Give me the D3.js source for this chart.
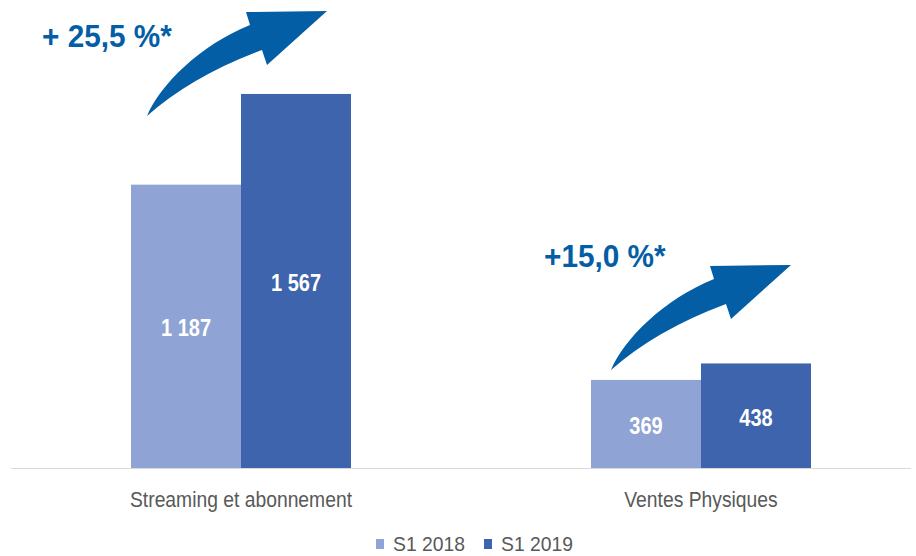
<!DOCTYPE html>
<html>
<head>
<meta charset="utf-8">
<script src="https://cdnjs.cloudflare.com/ajax/libs/d3/7.8.5/d3.min.js"></script>
<style>
  body { margin: 0; background: #fff; }
  svg { display: block; }
</style>
</head>
<body>
<div id="chart"></div>
<script>
// Data
const categories = ["Streaming et abonnement", "Ventes Physiques"];
const series = ["S1 2018", "S1 2019"];
const values2018 = [1187, 369];
const values2019 = [1567, 438];
const growthLabels = ["+ 25,5 %*", "+15,0 %*"];

const colors = { "S1 2018": "#8FA3D4", "S1 2019": "#3D64AD" };
const accent = "#045EA5";
const font = "'Liberation Sans', Arial, sans-serif";

const viewW = 916, viewH = 556;
const baseY = 468;

const svg = d3.select("#chart")
  .append("svg")
  .attr("width", viewW)
  .attr("height", viewH);

// condensed look (no narrow font installed)
const condense = (sel, f) => sel.each(function () {
  const w = this.getComputedTextLength();
  d3.select(this).attr("textLength", w * f).attr("lengthAdjust", "spacingAndGlyphs");
});

// Scales
const x0 = d3.scaleBand()
  .domain(categories)
  .range([11, 931]);

const x1 = d3.scaleBand()
  .domain(series)
  .range([120, 340]);

const y = d3.scaleLinear()
  .domain([0, 1800])
  .range([baseY, baseY - 1800 * 0.2387]);

const rows = categories.map((c, i) => ({
  cat: c,
  vals: [
    { s: series[0], v: values2018[i] },
    { s: series[1], v: values2019[i] }
  ]
}));

// Bars
const groups = svg.selectAll("g.grp")
  .data(rows)
  .join("g")
  .attr("class", "grp")
  .attr("transform", d => `translate(${x0(d.cat)},0)`);

groups.selectAll("rect")
  .data(d => d.vals)
  .join("rect")
  .attr("x", d => x1(d.s))
  .attr("y", d => y(d.v))
  .attr("width", x1.bandwidth())
  .attr("height", d => y(0) - y(d.v))
  .attr("fill", d => colors[d.s]);

// Value labels
groups.selectAll("text.val")
  .data(d => d.vals)
  .join("text")
  .attr("class", "val")
  .attr("x", d => x1(d.s) + x1.bandwidth() / 2)
  .attr("y", d => (y(d.v) + y(0)) / 2 + 10)
  .attr("text-anchor", "middle")
  .attr("fill", "#fff")
  .style("font-family", font)
  .style("font-weight", "bold")
  .style("font-size", "23px")
  .text(d => d3.format(",")(d.v).replace(",", " "))
  .call(condense, 0.87);

// X Axis line
svg.append("line")
  .attr("x1", 11).attr("x2", 911)
  .attr("y1", baseY + 0.5).attr("y2", baseY + 0.5)
  .attr("stroke", "#d9d9d9")
  .attr("stroke-width", 1);

// Category labels
svg.selectAll("text.cat")
  .data(categories)
  .join("text")
  .attr("class", "cat")
  .attr("x", d => x0(d) + x0.bandwidth() / 2)
  .attr("y", 507)
  .attr("text-anchor", "middle")
  .attr("fill", "#595959")
  .style("font-family", font)
  .style("font-size", "22px")
  .text(d => d)
  .call(condense, 0.877);

// Growth arrows (shape relative to tail point)
const annot = [
  { label: growthLabels[0], tx: 147, ty: 116, lx: 42, ly: 47 },
  { label: growthLabels[1], tx: 611, ty: 370, lx: 544, ly: 267 }
];

function arrowPath(tx, ty) {
  const p = d3.path();
  p.moveTo(tx, ty);
  p.bezierCurveTo(tx + 13, ty - 31, tx + 53, ty - 71, tx + 103, ty - 91);
  p.lineTo(tx + 99, ty - 104);
  p.lineTo(tx + 180, ty - 105);
  p.lineTo(tx + 120, ty - 51);
  p.lineTo(tx + 115, ty - 66);
  p.quadraticCurveTo(tx + 45, ty - 40, tx, ty);
  p.closePath();
  return p.toString();
}

svg.selectAll("path.arrow")
  .data(annot)
  .join("path")
  .attr("class", "arrow")
  .attr("d", d => arrowPath(d.tx, d.ty))
  .attr("fill", accent);

svg.selectAll("text.growth")
  .data(annot)
  .join("text")
  .attr("class", "growth")
  .attr("x", d => d.lx)
  .attr("y", d => d.ly)
  .attr("fill", accent)
  .style("font-family", font)
  .style("font-weight", "bold")
  .style("font-size", "32px")
  .text(d => d.label)
  .call(condense, 0.93);

// Legend
const legend = svg.append("g")
  .attr("transform", "translate(376,539)");

const li = legend.selectAll("g")
  .data(series)
  .join("g")
  .attr("transform", (d, i) => `translate(${i * 108},0)`);

li.append("rect")
  .attr("width", 8).attr("height", 10)
  .attr("fill", d => colors[d]);

li.append("text")
  .attr("x", 17)
  .attr("y", 12)
  .attr("fill", "#595959")
  .style("font-family", font)
  .style("font-size", "21px")
  .text(d => d)
  .call(condense, 0.92);
</script>
</body>
</html>
